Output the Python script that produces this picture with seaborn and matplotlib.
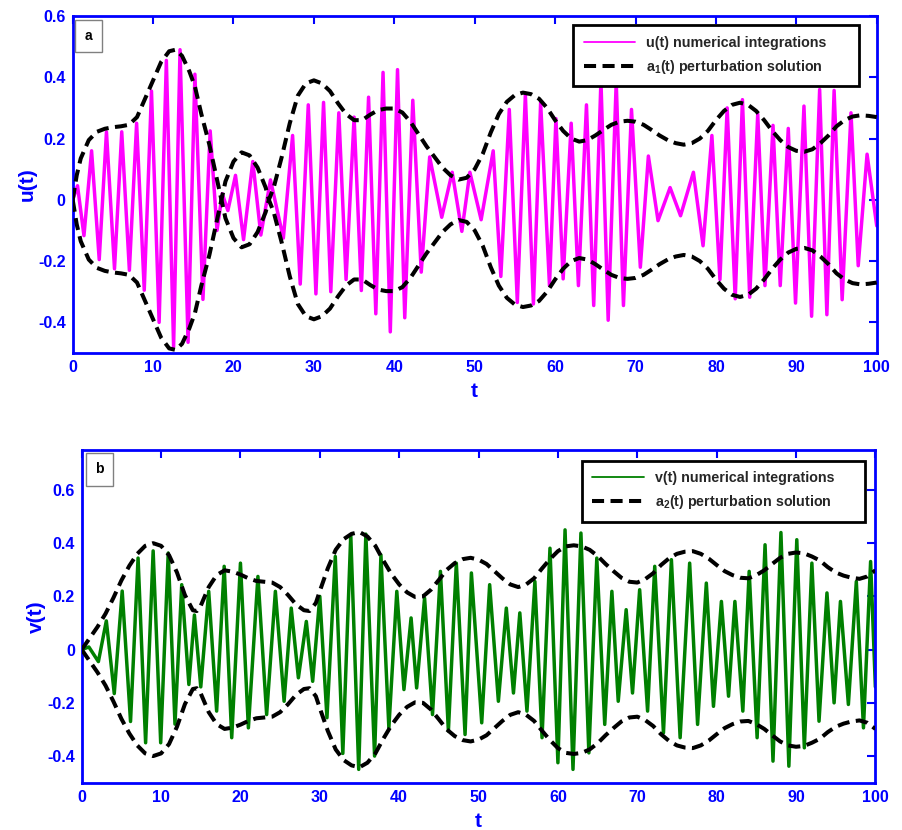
import matplotlib
matplotlib.use("Agg")
import matplotlib.pyplot as plt
from matplotlib.lines import Line2D
from matplotlib.patches import Rectangle
import seaborn as sns

# ---------------- data ----------------
# u(t): successive extrema of the numerical integration
u_t = [0.0, 0.6, 1.4, 2.35, 3.3, 4.2, 5.2, 6.1, 7.05, 7.95, 8.9, 9.8, 10.75, 11.65,
       12.55, 13.35, 14.35, 15.2, 16.2, 17.1, 17.95, 18.6, 19.3, 20.25, 21.25, 22.4,
       23.4, 24.6, 26.2, 27.35, 28.3, 29.3, 30.25, 31.2, 32.1, 33.1, 34.0, 35.0, 35.9,
       36.8, 37.7, 38.6, 39.5, 40.4, 41.3, 42.3, 43.35, 44.4, 45.9, 47.2, 48.4, 49.4,
       50.8, 52.3, 53.25, 54.3, 55.3, 56.3, 57.3, 58.2, 59.3, 60.1, 61.0, 62.0, 62.9,
       63.9, 64.8, 65.7, 66.6, 67.6, 68.5, 69.5, 70.6, 71.6, 72.8, 74.3, 75.6, 77.2,
       78.4, 79.5, 80.5, 81.4, 82.4, 83.3, 84.2, 85.2, 86.1, 87.1, 88.0, 89.0, 89.9,
       90.95, 91.9, 92.9, 93.8, 94.7, 95.7, 96.8, 97.7, 98.8, 100.0]
u_val = [0.0, 0.046, -0.117, 0.16, -0.195, 0.222, -0.225, 0.222, -0.23, 0.25, -0.295,
         0.355, -0.40, 0.455, -0.48, 0.49, -0.465, 0.41, -0.325, 0.225, -0.10, 0.02,
         -0.035, 0.08, -0.13, 0.125, -0.115, 0.065, -0.125, 0.21, -0.275, 0.31, -0.307,
         0.318, -0.30, 0.284, -0.26, 0.27, -0.296, 0.335, -0.372, 0.416, -0.431, 0.425,
         -0.385, 0.325, -0.236, 0.14, -0.057, 0.09, -0.103, 0.09, -0.065, 0.16, -0.25,
         0.295, -0.335, 0.344, -0.34, 0.318, -0.28, 0.265, -0.258, 0.25, -0.28, 0.31,
         -0.345, 0.39, -0.393, 0.385, -0.345, 0.295, -0.22, 0.143, -0.068, 0.04, -0.052,
         0.09, -0.15, 0.21, -0.26, 0.30, -0.323, 0.327, -0.318, 0.28, -0.28, 0.243,
         -0.28, 0.233, -0.337, 0.306, -0.38, 0.36, -0.375, 0.357, -0.326, 0.284, -0.215,
         0.149, -0.085]

# a1(t): perturbation amplitude (signed)
a1_t = [0, 0.5, 1, 2, 3, 4, 5, 6, 7, 8, 9, 10, 11, 12, 12.8, 13.6, 14.5, 15.2, 16, 17,
        18, 18.5, 19, 20, 21, 22, 23, 24, 24.4, 25, 26, 27, 28, 29, 30, 31, 32, 33, 34,
        35, 36, 37, 38, 39, 40, 41, 42, 43, 44, 45, 46, 47, 48, 49, 50, 51, 52, 53, 54,
        55, 56, 57, 58, 59, 60, 61, 62, 63, 64, 65, 66, 67, 68, 69, 70, 71, 72, 73, 74,
        75, 76, 77, 78, 79, 80, 81, 82, 83, 84, 85, 86, 87, 88, 89, 90, 91, 92, 93, 94,
        95, 96, 97, 98, 99, 100]
a1_val = [0.0, 0.08, 0.135, 0.195, 0.222, 0.232, 0.237, 0.24, 0.245, 0.27, 0.33, 0.39,
          0.45, 0.485, 0.49, 0.47, 0.42, 0.37, 0.28, 0.18, 0.06, 0.0, -0.06, -0.125,
          -0.155, -0.145, -0.105, -0.04, 0.0, 0.04, 0.14, 0.25, 0.34, 0.38, 0.39, 0.38,
          0.355, 0.315, 0.28, 0.26, 0.26, 0.278, 0.293, 0.298, 0.298, 0.285, 0.255, 0.215,
          0.175, 0.14, 0.105, 0.08, 0.066, 0.072, 0.1, 0.15, 0.22, 0.28, 0.32, 0.342,
          0.35, 0.345, 0.33, 0.3, 0.26, 0.225, 0.2, 0.19, 0.195, 0.21, 0.228, 0.245, 0.255,
          0.258, 0.255, 0.245, 0.228, 0.21, 0.195, 0.185, 0.18, 0.185, 0.2, 0.225, 0.26,
          0.29, 0.31, 0.317, 0.31, 0.29, 0.26, 0.225, 0.195, 0.172, 0.16, 0.157, 0.165,
          0.185, 0.21, 0.24, 0.26, 0.272, 0.276, 0.274, 0.27]

# v(t): successive extrema of the numerical integration
v_t = [0.0, 0.9, 2.1, 3.1, 4.1, 5.1, 6.15, 7.1, 8.05, 9.0, 9.95, 10.9, 11.75, 12.6,
       13.5, 14.2, 15.0, 16.0, 17.0, 17.95, 18.9, 20.0, 21.0, 22.2, 23.3, 24.4, 25.5,
       26.4, 27.3, 28.3, 29.1, 30.0, 30.9, 31.95, 32.9, 33.9, 34.9, 35.8, 36.9, 37.7,
       38.7, 39.7, 40.6, 41.5, 42.2, 43.2, 44.2, 45.2, 46.2, 47.2, 48.3, 49.1, 50.4,
       51.4, 52.5, 53.5, 54.4, 55.2, 56.1, 57.1, 58.0, 59.0, 60.0, 60.9, 61.9, 62.9,
       63.9, 64.9, 65.9, 66.8, 67.6, 68.6, 69.4, 70.3, 71.3, 72.2, 73.3, 74.3, 75.4,
       76.6, 77.6, 78.7, 79.6, 80.6, 81.5, 82.3, 83.3, 84.1, 85.1, 86.1, 87.1, 88.1,
       89.1, 90.1, 91.05, 92.0, 92.9, 93.9, 94.8, 95.6, 96.6, 97.6, 98.5, 99.4, 100.0]
v_val = [0.0, 0.01, -0.045, 0.108, -0.165, 0.22, -0.27, 0.344, -0.35, 0.371, -0.35,
         0.363, -0.28, 0.244, -0.131, 0.13, -0.14, 0.219, -0.231, 0.313, -0.331, 0.325,
         -0.294, 0.275, -0.244, 0.219, -0.194, 0.156, -0.106, 0.106, -0.119, 0.2, -0.256,
         0.35, -0.39, 0.432, -0.45, 0.434, -0.40, 0.356, -0.294, 0.219, -0.15, 0.119,
         -0.144, 0.194, -0.244, 0.294, -0.306, 0.325, -0.319, 0.288, -0.275, 0.244,
         -0.194, 0.156, -0.163, 0.138, -0.231, 0.256, -0.331, 0.381, -0.425, 0.45, -0.45,
         0.438, -0.388, 0.344, -0.281, 0.219, -0.194, 0.15, -0.163, 0.225, -0.231, 0.313,
         -0.313, 0.338, -0.331, 0.325, -0.281, 0.25, -0.213, 0.181, -0.175, 0.181, -0.231,
         0.294, -0.331, 0.394, -0.419, 0.44, -0.438, 0.413, -0.369, 0.325, -0.269, 0.213,
         -0.2, 0.181, -0.206, 0.256, -0.294, 0.331, -0.14]

# a2(t): perturbation amplitude
a2_t = [0, 1, 2, 3, 4, 5, 6, 7, 8, 9, 10, 11, 12, 13, 14, 14.5, 15, 16, 17, 18, 19, 20,
        21, 22, 23, 24, 25, 26, 27, 28, 28.7, 29.5, 30, 31, 32, 33, 34, 35, 36, 37, 38,
        39, 40, 41, 42, 43, 44, 45, 46, 47, 48, 49, 50, 51, 52, 53, 54, 55, 56, 57, 58,
        59, 60, 61, 62, 63, 64, 65, 66, 67, 68, 69, 70, 71, 72, 73, 74, 75, 76, 77, 78,
        79, 80, 81, 82, 83, 84, 85, 86, 87, 88, 89, 90, 91, 92, 93, 94, 95, 96, 97, 98,
        99, 100]
a2_val = [0.0, 0.043, 0.086, 0.135, 0.195, 0.26, 0.315, 0.36, 0.39, 0.40, 0.39, 0.355,
          0.29, 0.205, 0.148, 0.145, 0.165, 0.235, 0.28, 0.298, 0.293, 0.282, 0.268,
          0.258, 0.255, 0.252, 0.235, 0.205, 0.17, 0.148, 0.145, 0.175, 0.22, 0.305,
          0.375, 0.415, 0.435, 0.442, 0.425, 0.39, 0.335, 0.285, 0.245, 0.215, 0.198, 0.2,
          0.225, 0.262, 0.3, 0.325, 0.34, 0.345, 0.338, 0.322, 0.295, 0.268, 0.245, 0.235,
          0.245, 0.268, 0.305, 0.34, 0.37, 0.388, 0.392, 0.388, 0.375, 0.352, 0.322,
          0.295, 0.27, 0.255, 0.252, 0.265, 0.287, 0.318, 0.343, 0.36, 0.368, 0.37, 0.36,
          0.342, 0.318, 0.295, 0.28, 0.27, 0.268, 0.28, 0.298, 0.322, 0.345, 0.36, 0.365,
          0.362, 0.35, 0.335, 0.31, 0.29, 0.278, 0.27, 0.266, 0.275, 0.298]

x_ticks = [0, 10, 20, 30, 40, 50, 60, 70, 80, 90, 100]
y_ticks = [-0.4, -0.2, 0, 0.2, 0.4, 0.6]
y_tick_labels = ["-0.4", "-0.2", "0", "0.2", "0.4", "0.6"]

legend_top = ["u(t) numerical integrations", "a$_{1}$(t) perturbation solution"]
legend_bottom = ["v(t) numerical integrations", "a$_{2}$(t) perturbation solution"]

# ---------------- style ----------------
sns.set_style("white")
plt.rcParams.update({
    "font.family": ["Liberation Sans", "DejaVu Sans"],
    "font.weight": "bold",
    "axes.labelweight": "bold",
    "mathtext.fontset": "custom",
    "mathtext.rm": "Liberation Sans:bold",
    "mathtext.it": "Liberation Sans:bold",
    "mathtext.bf": "Liberation Sans:bold",
    "lines.solid_joinstyle": "round",
    "lines.solid_capstyle": "round",
})

BLUE = "#0000ff"
MAGENTA = "#ff00ff"
GREEN = "#008000"
DASH = (0, (3.0, 1.6))

fig = plt.figure(figsize=(9.03, 8.30), dpi=100)
ax1 = fig.add_axes([0.0805, 0.5747, 0.8904, 0.4060])
ax2 = fig.add_axes([0.0905, 0.0570, 0.8789, 0.4008])


def draw_panel(ax, t, y, color, env_t, env, ylim, ylabel, tag, labels, leg_box, tag_box):
    sns.lineplot(x=t, y=y, ax=ax, color=color, linewidth=2.5, sort=False,
                 estimator=None, zorder=2)
    sns.lineplot(x=env_t, y=env, ax=ax, color="black", linewidth=2.9,
                 linestyle=DASH, sort=False, estimator=None, zorder=3)
    sns.lineplot(x=env_t, y=[-a for a in env], ax=ax, color="black", linewidth=2.9,
                 linestyle=DASH, sort=False, estimator=None, zorder=3)

    ax.set_xlim(0, 100)
    ax.set_ylim(*ylim)
    ax.set_xticks(x_ticks)
    ax.set_xticklabels([str(v) for v in x_ticks])
    ax.set_yticks(y_ticks)
    ax.set_yticklabels(y_tick_labels)
    ax.tick_params(axis="both", direction="in", top=True, right=True, length=6,
                   width=1.5, color=BLUE, labelcolor=BLUE, labelsize=11.5, pad=5)
    for lab in ax.get_xticklabels() + ax.get_yticklabels():
        lab.set_fontweight("bold")
    for sp in ax.spines.values():
        sp.set_color(BLUE)
        sp.set_linewidth(2.0)
    ax.set_xlabel("t", color=BLUE, fontsize=15, fontweight="bold", labelpad=5)
    ax.set_ylabel(ylabel, color=BLUE, fontsize=15, fontweight="bold", labelpad=1)

    handles = [Line2D([], [], color=color, linewidth=1.3),
               Line2D([], [], color="black", linewidth=2.9, linestyle=DASH)]
    leg = ax.legend(handles, labels, loc="upper left", bbox_to_anchor=leg_box,
                    mode="expand", borderaxespad=0, frameon=True, fancybox=False,
                    framealpha=1, edgecolor="black", fontsize=10.3, handlelength=3.6,
                    handletextpad=0.8, labelspacing=0.55, borderpad=0.75)
    leg.get_frame().set_linewidth(2.0)
    for txt in leg.get_texts():
        txt.set_fontweight("bold")
    leg.set_zorder(5)

    x0, y0, w, h = tag_box
    ax.add_patch(Rectangle((x0, y0), w, h, transform=ax.transAxes, facecolor="white",
                           edgecolor="#808080", linewidth=1.0, zorder=6, clip_on=False))
    ax.text(x0 + w / 2, y0 + h / 2, tag, transform=ax.transAxes, ha="center",
            va="center", fontsize=10, fontweight="bold", color="black", zorder=7)


draw_panel(ax1, u_t, u_val, MAGENTA, a1_t, a1_val, (-0.5, 0.6), "u(t)", "a",
           legend_top, (0.622, 0.783, 0.356, 0.19), (0.003, 0.893, 0.0336, 0.095))
draw_panel(ax2, v_t, v_val, GREEN, a2_t, a2_val, (-0.5, 0.75), "v(t)", "b",
           legend_bottom, (0.630, 0.795, 0.357, 0.173), (0.0054, 0.892, 0.034, 0.100))

fig.savefig("out.png", dpi=100)
